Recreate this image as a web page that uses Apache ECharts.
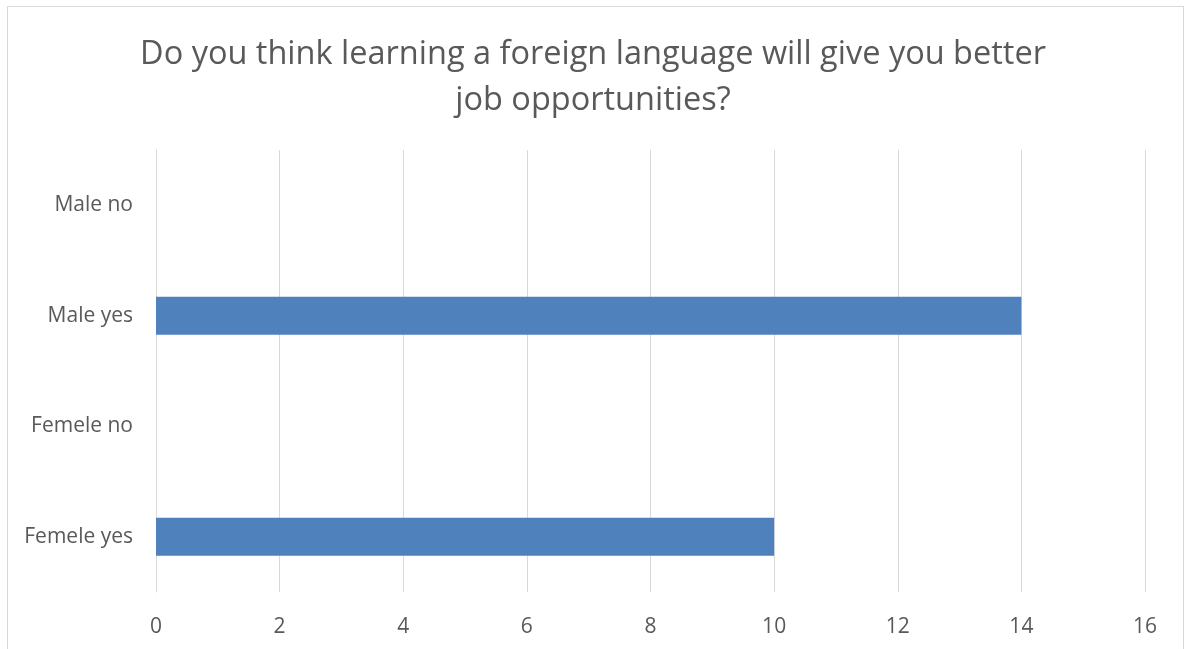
<!DOCTYPE html>
<html>
<head>
<meta charset="utf-8">
<title>Foreign language job opportunities</title>
<script src="https://cdn.jsdelivr.net/npm/echarts@6/dist/echarts.min.js"></script>
<style>
  html, body { margin: 0; padding: 0; background: #fff; }
  #frame {
    position: absolute; left: 7px; top: 6px; width: 1177px; height: 660px;
    border: 1px solid #d9d9d9; box-sizing: border-box;
  }
  #main { position: absolute; left: 0; top: 0; width: 1186px; height: 649px; }
</style>
</head>
<body>
<div id="frame"></div>
<div id="main"></div>
<script>
  // bottom to top, as ECharts lists category axes
  const categories = ['Femele yes', 'Femele no', 'Male yes', 'Male no']
  const answers = [10, 0, 14, 0]
  const xTicks = [0, 2, 4, 6, 8, 10, 12, 14, 16]

  const font = '"Open Sans", "Noto Sans", sans-serif'
  const myChart = echarts.init(document.getElementById('main'), null, { renderer: 'canvas' })
  myChart.setOption({
    backgroundColor: 'transparent',
    animation: false,
    title: {
      text: 'Do you think learning a foreign language will give you better\njob opportunities?',
      left: 'center',
      top: 27,
      textStyle: {
        fontFamily: font,
        fontSize: 32.5,
        fontWeight: 'normal',
        color: '#595959',
        lineHeight: 46
      }
    },
    grid: {
      left: 156,
      right: 41,
      top: 150,
      bottom: 57
    },
    xAxis: {
      type: 'value',
      min: xTicks[0],
      max: xTicks[xTicks.length - 1],
      interval: 2,
      axisLine: { show: false },
      axisTick: { show: false },
      axisLabel: {
        margin: 25,
        fontFamily: font,
        fontSize: 21,
        color: '#595959'
      },
      splitLine: { lineStyle: { color: '#d9d9d9', width: 1 } }
    },
    yAxis: {
      type: 'category',
      data: categories,
      axisLine: { show: true, lineStyle: { color: '#d9d9d9', width: 1 } },
      axisTick: { show: false },
      axisLabel: {
        margin: 23,
        padding: [6, 0, 0, 0],
        fontFamily: font,
        fontSize: 21,
        color: '#595959'
      }
    },
    series: [{
      type: 'bar',
      data: answers,
      barWidth: 38,
      itemStyle: { color: '#4f81bd' }
    }]
  })
</script>
</body>
</html>
